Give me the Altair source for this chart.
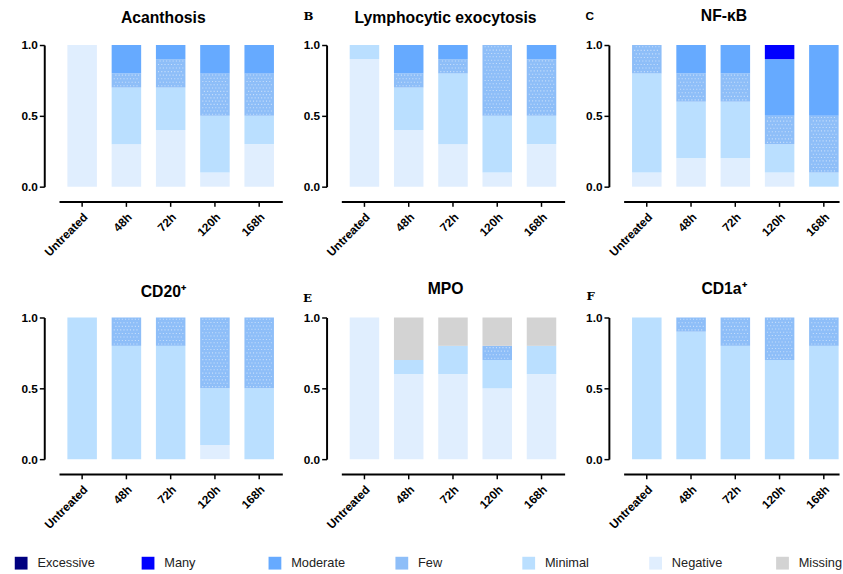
import altair as alt
import pandas as pd

# ---------------- data ----------------
categories = ["Untreated", "48h", "72h", "120h", "168h"]
legend_levels = ["Excessive", "Many", "Moderate", "Few", "Minimal", "Negative", "Missing"]
level_colors = ["#000080", "#0000ff", "#66aaff", "#8ebef8", "#badfff", "#e0eefe", "#d3d3d3"]
stack_order = ["Negative", "Minimal", "Few", "Moderate", "Many", "Excessive", "Missing"]

panel_titles = ["Acanthosis", "Lymphocytic exocytosis", "NF-κB", "CD20⁺", "MPO", "CD1a⁺"]
panel_letters = ["", "B", "C", "", "E", "F"]

acanthosis = {
    "Negative": [1.0, 0.3, 0.4, 0.1, 0.3],
    "Minimal":  [0.0, 0.4, 0.3, 0.4, 0.2],
    "Few":      [0.0, 0.1, 0.2, 0.3, 0.3],
    "Moderate": [0.0, 0.2, 0.1, 0.2, 0.2],
}
lymphocytic = {
    "Negative": [0.9, 0.4, 0.3, 0.1, 0.3],
    "Minimal":  [0.1, 0.3, 0.5, 0.4, 0.2],
    "Few":      [0.0, 0.1, 0.1, 0.5, 0.4],
    "Moderate": [0.0, 0.2, 0.1, 0.0, 0.1],
}
nfkb = {
    "Negative": [0.1, 0.2, 0.2, 0.1, 0.0],
    "Minimal":  [0.7, 0.4, 0.4, 0.2, 0.1],
    "Few":      [0.2, 0.2, 0.2, 0.2, 0.4],
    "Moderate": [0.0, 0.2, 0.2, 0.4, 0.5],
    "Many":     [0.0, 0.0, 0.0, 0.1, 0.0],
}
cd20 = {
    "Negative": [0.0, 0.0, 0.0, 0.1, 0.0],
    "Minimal":  [1.0, 0.8, 0.8, 0.4, 0.5],
    "Few":      [0.0, 0.2, 0.2, 0.5, 0.5],
}
mpo = {
    "Negative": [1.0, 0.6, 0.6, 0.5, 0.6],
    "Minimal":  [0.0, 0.1, 0.2, 0.2, 0.2],
    "Few":      [0.0, 0.0, 0.0, 0.1, 0.0],
    "Missing":  [0.0, 0.3, 0.2, 0.2, 0.2],
}
cd1a = {
    "Minimal":  [1.0, 0.9, 0.8, 0.7, 0.8],
    "Few":      [0.0, 0.1, 0.2, 0.3, 0.2],
}
panel_data = [acanthosis, lymphocytic, nfkb, cd20, mpo, cd1a]

rows = []
for title, pdata in zip(panel_titles, panel_data):
    for level, vals in pdata.items():
        for cat, v in zip(categories, vals):
            if v > 0:
                rows.append({"panel": title, "cat": cat, "level": level,
                             "value": v, "rank": stack_order.index(level)})
df = pd.DataFrame(rows)

# ---------------- styling ----------------
SANS = "Liberation Sans"
SERIF = "DejaVu Serif"
letter_style = {
    "B": dict(titleX=-19, titleY=-26, titleFont=SERIF),
    "C": dict(titleX=-20, titleY=-26, titleFont=SANS),
    "E": dict(titleX=-20, titleY=-16, titleFont=SERIF),
    "F": dict(titleX=-19, titleY=-18, titleFont=SERIF),
}
title_offsets = [0, -29.6, -27.6, -1, -17.6, -20.6]

color_scale = alt.Scale(domain=legend_levels, range=level_colors)
y_scale = alt.Scale(domain=[0, 1])


def make_panel(i):
    title = panel_titles[i]
    letter = panel_letters[i]
    last = (i % 3) == 2
    if last:
        w = 234
        x_scale = alt.Scale(range=[15, 234], paddingInner=1 / 3, paddingOuter=0.1, align=0.95)
    else:
        w = 242
        x_scale = alt.Scale(range=[15, 242], paddingInner=1 / 3, paddingOuter=0.189)

    y_axis_kw = dict(values=[0, 0.5, 1], format=".1f", labelPadding=2)
    if letter:
        y_axis_kw.update(title=letter, titleAngle=0, titleAlign="center",
                         titleBaseline="alphabetic", titleFontSize=12,
                         titleFontWeight="bold", titleColor="black",
                         **letter_style[letter])
    else:
        y_axis_kw.update(title=None)
    y_axis = alt.Axis(**y_axis_kw)

    x_axis = alt.Axis(title=None, labelAngle=-45, labelAlign="right",
                      labelBaseline="top", offset=15, labelPadding=5)

    base = alt.Chart(df)

    bars = base.mark_bar(width=alt.RelativeBandSize(1)).encode(
        x=alt.X("cat:N", sort=categories, scale=x_scale, axis=x_axis),
        y=alt.Y("y0:Q", scale=y_scale, axis=y_axis),
        y2="y1:Q",
        color=alt.Color(
            "level:N", scale=color_scale,
            legend=alt.Legend(
                title=None, orient="none", legendX=-30, legendY=520,
                direction="horizontal", columns=7, gridAlign="all",
                columnPadding=47, symbolType="square", symbolSize=169,
                symbolStrokeWidth=0, labelFontSize=13, labelFont=SANS,
                labelOffset=10, labelColor="#222222",
            ),
        ),
    )

    # dotted texture of the "Few" segments: rows of dashed rules
    step = 0.023
    dot_rows = (
        base.transform_filter(alt.datum.level == "Few")
        .transform_calculate(nr=f"max(1, floor((datum.y1 - datum.y0) / {step} + 0.001))")
        .transform_calculate(ri="sequence(0, datum.nr)")
        .transform_flatten(["ri"])
        .transform_calculate(
            ry="datum.y0 + (datum.ri + 0.5) * (datum.y1 - datum.y0) / datum.nr",
            odd="datum.ri % 2",
        )
    )

    def dot_layer(parity, dash_offset):
        return (
            dot_rows.transform_filter(alt.datum.odd == parity)
            .mark_rule(color="#c6defb", strokeWidth=1.1, strokeDash=[1.1, 2.2],
                       strokeDashOffset=dash_offset, strokeCap="butt")
            .encode(
                x=alt.X("cat:N", sort=categories, scale=x_scale, axis=x_axis,
                        bandPosition=0.07),
                x2=alt.X2("cat:N", bandPosition=0.93),
                y=alt.Y("ry:Q", scale=y_scale, axis=y_axis),
            )
        )

    return (
        alt.layer(bars, dot_layer(0, 0), dot_layer(1, 1.65))
        .transform_filter(alt.datum.panel == title)
        .transform_stack(stack="value", groupby=["cat"], as_=["y0", "y1"],
                         sort=[alt.SortField("rank", order="ascending")])
        .properties(
            width=w, height=144,
            title=alt.TitleParams(text=title, font=SANS, fontSize=16,
                                  fontWeight="bold", anchor="middle",
                                  frame="group", offset=title_offsets[i],
                                  baseline="alphabetic", color="black"),
        )
    )


chart = (
    alt.concat(*[make_panel(i) for i in range(6)], columns=3,
               spacing={"row": 133, "column": 45}, bounds="flush")
    .properties(padding={"left": 15, "top": 3, "right": 0, "bottom": 0})
    .configure_view(strokeWidth=0)
    .configure_axis(domainColor="black", domainWidth=2, tickColor="black",
                    tickWidth=1.5, tickSize=5, labelFont=SANS, labelFontSize=12,
                    labelFontWeight="bold", labelColor="black", grid=False)
)

chart.save("out.html", embed_options={"renderer": "svg", "actions": False})
